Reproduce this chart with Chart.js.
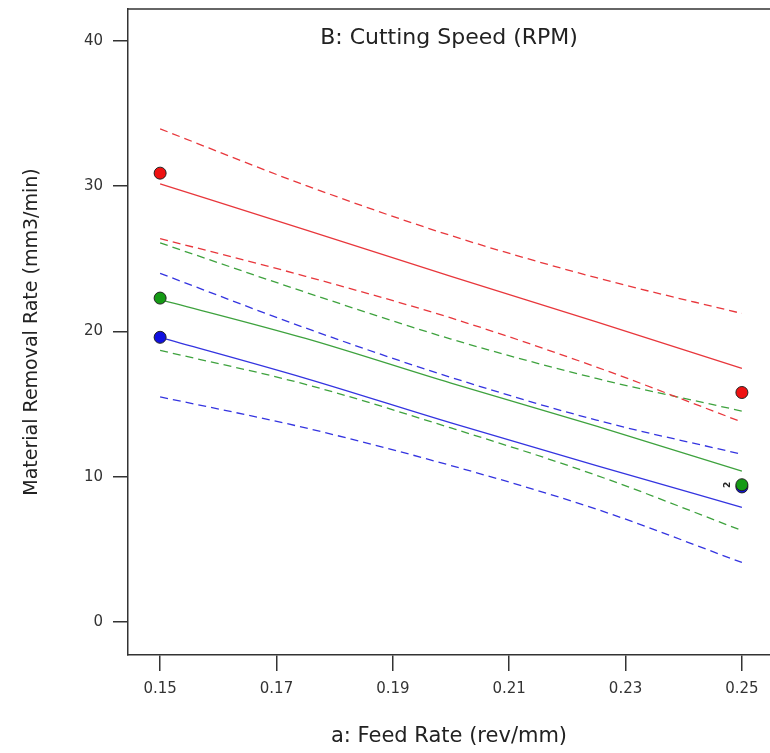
<!DOCTYPE html>
<html>
<head>
<meta charset="utf-8">
<style>
  html, body { margin: 0; padding: 0; background: #fff; overflow: hidden; }
  #wrap { width: 777px; height: 753px; }
</style>
<script src="https://cdn.jsdelivr.net/npm/chart.js"></script>
</head>
<body>
<div id="wrap"><canvas id="mrr"></canvas></div>
<script>
// feed rate positions where the fitted lines and bands were read
const feedRates = [0.15, 0.175, 0.2, 0.225, 0.25];

const redFit   = [30.17, 27.0, 23.79, 20.67, 17.46];
const redUpper = [33.95, 30.06, 26.6, 23.7, 21.24];
const redLower = [26.4, 23.8, 20.93, 17.55, 13.77];

const greenFit   = [22.2, 19.52, 16.44, 13.49, 10.38];
const greenUpper = [26.1, 22.7, 19.48, 16.77, 14.52];
const greenLower = [18.7, 16.36, 13.36, 10.1, 6.3];

const blueFit   = [19.6, 16.78, 13.71, 10.77, 7.9];
const blueUpper = [24.0, 20.24, 16.84, 13.9, 11.55];
const blueLower = [15.5, 13.36, 10.77, 7.77, 4.1];

// design points
const designX = [0.15, 0.25];
const redPoints = [30.9, 15.8];
const greenPoints = [22.3, 9.45];
const bluePoints = [19.6, 9.3];

const xTicks = [0.15, 0.17, 0.19, 0.21, 0.23, 0.25];
const yTicks = [0, 10, 20, 30, 40];

const RED = '#e8373c', GREEN = '#3ea23e', BLUE = '#3434e0';
const FONT = '"DejaVu Sans", "Noto Sans", sans-serif';

function pts(xs, ys) {
  return xs.map((x, i) => ({ x: x, y: ys[i] }));
}

function line(ys, color, dashed) {
  return {
    type: 'line',
    data: pts(feedRates, ys),
    borderColor: color,
    borderWidth: 1.3,
    borderDash: dashed ? [8, 5] : [],
    pointRadius: 0,
    cubicInterpolationMode: 'monotone',
    fill: false,
    order: 5
  };
}

function dots(ys, fill, order) {
  return {
    type: 'scatter',
    data: pts(designX, ys),
    backgroundColor: fill,
    borderColor: '#222',
    borderWidth: 1,
    pointRadius: 6,
    showLine: false,
    order: order
  };
}

// chart title sits inside the plot, plus top frame line and the small "2" marker
const extras = {
  id: 'extras',
  afterDraw(chart) {
    const ctx = chart.ctx;
    const a = chart.chartArea;
    ctx.save();
    ctx.strokeStyle = '#333';
    ctx.lineWidth = 1.5;
    ctx.beginPath();
    ctx.moveTo(a.left, a.top);
    ctx.lineTo(a.right, a.top);
    ctx.stroke();

    ctx.fillStyle = '#222';
    ctx.font = '22px ' + FONT;
    ctx.textAlign = 'center';
    ctx.textBaseline = 'middle';
    ctx.fillText('B: Cutting Speed (RPM)', 449, 38);

    const px = chart.scales.x.getPixelForValue(0.25) - 14;
    const py = chart.scales.y.getPixelForValue(greenPoints[1]);
    ctx.translate(px, py);
    ctx.rotate(-Math.PI / 2);
    ctx.font = 'bold 9px ' + FONT;
    ctx.fillText('2', 0, 0);
    ctx.restore();
  }
};

new Chart('mrr', {
  data: {
    datasets: [
      line(redUpper, RED, true),
      line(redFit, RED, false),
      line(redLower, RED, true),
      line(greenUpper, GREEN, true),
      line(greenFit, GREEN, false),
      line(greenLower, GREEN, true),
      line(blueUpper, BLUE, true),
      line(blueFit, BLUE, false),
      line(blueLower, BLUE, true),
      dots(redPoints, '#ee1111', 1),
      dots(greenPoints, '#159a15', 2),
      dots(bluePoints, '#1010e0', 3)
    ]
  },
  options: {
    responsive: true,
    maintainAspectRatio: false,
    animation: false,
    layout: { padding: { top: 9, right: 0, left: 0, bottom: 0 } },
    plugins: { legend: { display: false }, tooltip: { enabled: false } },
    scales: {
      x: {
        type: 'linear',
        min: 0.14448,
        max: 0.25483,
        afterBuildTicks: s => { s.ticks = xTicks.map(v => ({ value: v })); },
        afterFit: s => { s.height = 98; s.paddingLeft = 0; s.paddingRight = 0; },
        grid: { display: true, drawOnChartArea: false, drawTicks: true, tickLength: 16, color: '#333', lineWidth: 1.5 },
        border: { display: true, color: '#333', width: 1.5 },
        ticks: { color: '#333', font: { family: FONT, size: 15 }, padding: 9, maxRotation: 0,
                 callback: v => v.toFixed(2) },
        title: { display: true, text: 'a: Feed Rate (rev/mm)', color: '#222',
                 font: { family: FONT, size: 21 }, padding: { top: 4, bottom: 4 } }
      },
      y: {
        type: 'linear',
        min: -2.27,
        max: 42.2,
        afterBuildTicks: s => { s.ticks = yTicks.map(v => ({ value: v })); },
        afterFit: s => { s.width = 128; s.paddingTop = 0; s.paddingBottom = 0; },
        grid: { display: true, drawOnChartArea: false, drawTicks: true, tickLength: 15, color: '#333', lineWidth: 1.5 },
        border: { display: true, color: '#333', width: 1.5 },
        ticks: { color: '#333', font: { family: FONT, size: 15 }, padding: 10 },
        title: { display: true, text: 'Material Removal Rate (mm3/min)', color: '#222',
                 font: { family: FONT, size: 19 }, padding: { top: 21, bottom: 21 } }
      }
    }
  },
  plugins: [extras]
});
</script>
</body>
</html>
